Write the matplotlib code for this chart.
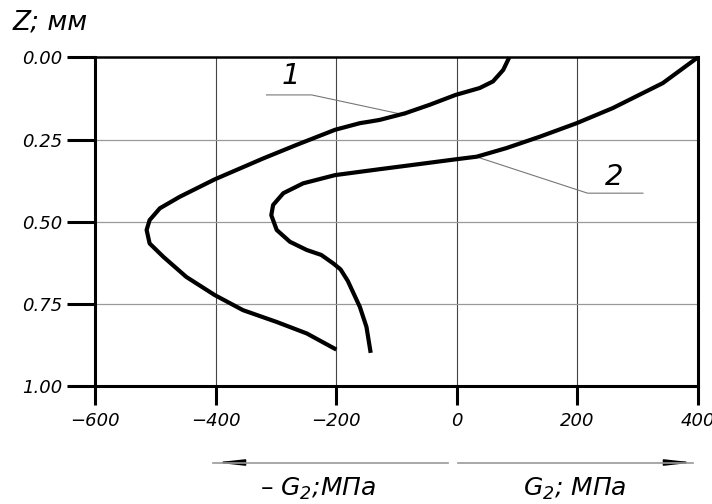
import matplotlib.pyplot as plt

# curve 1: stress (MPa) vs depth Z (mm)
z1 = [0, 0.038, 0.073, 0.093, 0.114, 0.144, 0.17, 0.19, 0.195, 0.2, 0.22, 0.266, 0.307, 0.371,
      0.424, 0.459, 0.495, 0.525, 0.566, 0.607, 0.668, 0.723, 0.769, 0.805, 0.84, 0.889]
s1 = [87, 77, 60, 38, -2, -45, -86, -128, -144, -161, -202, -266, -321, -402,
      -460, -493, -510, -515, -510, -487, -449, -402, -355, -299, -249, -200]

# curve 2
z2 = [0, 0.078, 0.154, 0.2, 0.241, 0.276, 0.302, 0.31, 0.327, 0.34, 0.358, 0.383, 0.413,
      0.449, 0.48, 0.525, 0.561, 0.586, 0.601, 0.627, 0.645, 0.68, 0.759, 0.82, 0.899]
s2 = [400, 342, 259, 199, 138, 82, 33, -2, -73, -128, -202, -255, -288,
      -305, -308, -299, -277, -249, -225, -205, -193, -181, -161, -150, -143]

xticks = [-600, -400, -200, 0, 200, 400]
yticks = [0.0, 0.25, 0.5, 0.75, 1.0]

plt.rcParams['font.family'] = 'DejaVu Sans'
plt.rcParams['font.style'] = 'italic'
plt.rcParams['mathtext.fontset'] = 'dejavusans'

fig = plt.figure(figsize=(7.12, 5.04), dpi=100)
ax = fig.add_axes([0.134, 0.234, 0.846, 0.652])

ax.plot(s1, z1, color='black', lw=3, solid_capstyle='butt', solid_joinstyle='round', clip_on=False, zorder=5)
ax.plot(s2, z2, color='black', lw=3, solid_capstyle='butt', solid_joinstyle='round', clip_on=False, zorder=5)

ax.set_xlim(-600, 400)
ax.set_ylim(1, 0)
ax.set_xticks(xticks)
ax.set_xticklabels(['\u2212600', '\u2212400', '\u2212200', '0', '200', '400'])
ax.set_yticks(yticks)
ax.set_yticklabels(['0.00', '0.25', '0.50', '0.75', '1.00'])

for x in xticks[1:-1]:
    ax.axvline(x, color='#444444', lw=0.8, zorder=1)
for y in yticks[1:-1]:
    ax.axhline(y, color='#999999', lw=0.9, zorder=1)

for sp in ax.spines.values():
    sp.set_linewidth(2.2)
ax.spines['top'].set_linewidth(1.8)

ax.tick_params(axis='y', direction='out', length=20, width=2.2, pad=4, labelsize=13)
ax.tick_params(axis='x', direction='out', length=14, width=2.2, pad=5, labelsize=13)

# leader lines with curve numbers
ax.plot([-316, -241, -86], [0.114, 0.114, 0.175], color='#777777', lw=0.8)
ax.text(-275, 0.1, '1', fontsize=21, ha='center', va='bottom')
ax.plot([32, 217, 309], [0.302, 0.413, 0.413], color='#777777', lw=0.8)
ax.text(262, 0.405, '2', fontsize=21, ha='center', va='bottom')

fig.text(0.017, 0.955, 'Z; мм', fontsize=19, ha='left', va='center')

# direction arrows under the axis
fig.add_artist(plt.Line2D([213 / 712, 448 / 712], [1 - 462.5 / 504] * 2, color='#999999', lw=1.2))
fig.add_artist(plt.Line2D([458 / 712, 693 / 712], [1 - 462.5 / 504] * 2, color='#999999', lw=1.2))
ax.annotate('', xy=(213 / 712, 1 - 462.5 / 504), xytext=(240 / 712, 1 - 462.5 / 504),
            xycoords='figure fraction',
            arrowprops=dict(arrowstyle='-|>,head_length=1.6,head_width=0.18', color='black', lw=1.2))
ax.annotate('', xy=(696 / 712, 1 - 462.5 / 504), xytext=(668 / 712, 1 - 462.5 / 504),
            xycoords='figure fraction',
            arrowprops=dict(arrowstyle='-|>,head_length=1.6,head_width=0.18', color='black', lw=1.2))

fig.text(318 / 712, 1 - 489 / 504, '\u2013 $G_2$;МПа', fontsize=18, ha='center', va='center')
fig.text(575 / 712, 1 - 489 / 504, '$G_2$; МПа', fontsize=18, ha='center', va='center')

fig.savefig('out.png', dpi=100)
